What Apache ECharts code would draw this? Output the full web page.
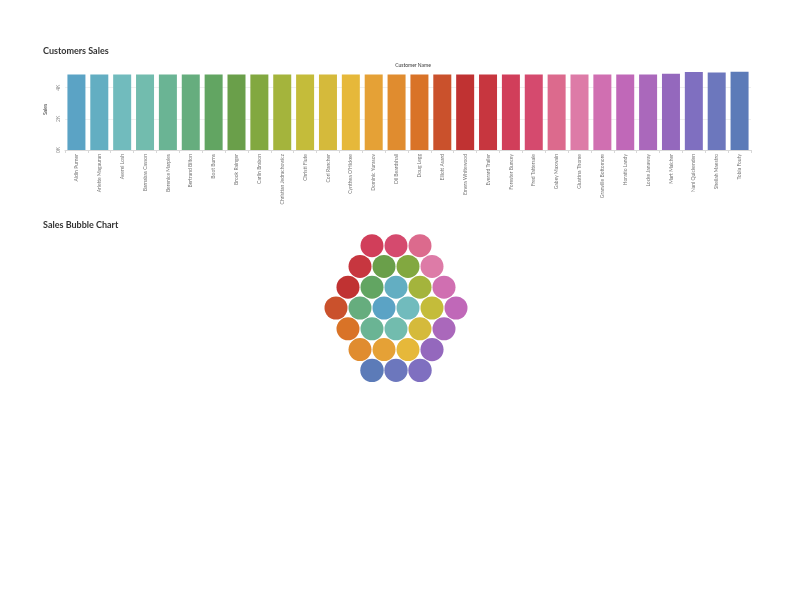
<!DOCTYPE html>
<html>
<head>
<meta charset="utf-8">
<script src="https://cdn.jsdelivr.net/npm/echarts@6/dist/echarts.min.js"></script>
<style>
    html, body { margin: 0; padding: 0; background: #fff; }
    #chart { width: 792px; height: 612px; }
</style>
</head>
<body>
<div id="chart"></div>
<script>
// customers, in the order of the bar chart
const customers = [
    'Aldin Purner', 'Arlette Magauran', 'Averel Losh', 'Barnabas Casson', 'Berenice Marples',
    'Bertrand Bilton', 'Boot Burns', 'Brook Rainger', 'Carlin Brabon', 'Christian Jedrachowicz',
    'Christi Flute', 'Cori Rancher', "Cynthea O'Hickee", 'Dominic Yurasov', 'Dil Beardshall',
    'Doug Legg', 'Elliott Asard', 'Emera Whitewood', 'Everard Trailer', 'Forester Buncey',
    'Fred Tattersale', 'Gabey Maxwain', 'Giustina Thome', 'Granville Bottomore', 'Horatio Landy',
    'Locke Janaway', 'Mart Malcher', 'Nani Quickenden', 'Sheilah Maestro', 'Tobia Fouty'
];

// sales per customer
const sales = [
    4840, 4840, 4840, 4840, 4840,
    4840, 4840, 4840, 4840, 4840,
    4840, 4840, 4840, 4840, 4840,
    4840, 4840, 4840, 4840, 4840,
    4840, 4840, 4840, 4840, 4840,
    4840, 4900, 5010, 4970, 5030
];

const salesTicks = [0, 2000, 4000];

// one colour per customer
const palette = [
    '#5ba3c5', '#63aec2', '#71bbbd', '#72bcae', '#6ab494',
    '#66ad7e', '#62a562', '#6a9f4a', '#82a840', '#a4b43c',
    '#c4bc3a', '#d5ba3b', '#e6b83a', '#e5a136', '#e08c2f',
    '#d97327', '#ca512c', '#c03232', '#c7363f', '#d13e5a',
    '#d54a6e', '#dc6a8d', '#dd7ba7', '#d06fb1', '#c068b8',
    '#aa68bb', '#9468bd', '#7f6fc0', '#6c77bd', '#5c7bb8'
];

const FONT = 'Lato, "Open Sans", sans-serif';

// hex spiral: first bubble in the middle, then ring after ring,
// each ring walked clockwise starting just left of 12 o'clock
function packHex(count, step) {
    const h = step * Math.sqrt(3) / 2;
    const cells = [];
    const R = 6;
    for (let q = -R; q <= R; q++) {
        for (let r = -R; r <= R; r++) {
            const ring = Math.max(Math.abs(q), Math.abs(r), Math.abs(q + r));
            if (ring > R) continue;
            const x = step * (q + r / 2), y = h * r;
            let key = Math.atan2(y, x) * 180 / Math.PI + 90 + 15;
            key = ((key % 360) + 360) % 360;
            cells.push({ x, y, ring, key });
        }
    }
    cells.sort((a, b) => a.ring - b.ring || a.key - b.key);

    const pts = cells.slice(0, count).map(c => [c.x, c.y]);
    const xs = pts.map(p => p[0]), ys = pts.map(p => p[1]);
    const mx = (Math.min(...xs) + Math.max(...xs)) / 2;
    const my = (Math.min(...ys) + Math.max(...ys)) / 2;
    return pts.map(p => [p[0] - mx, p[1] - my]);
}

const bubblePos = packHex(customers.length, 24);
const bubbleData = customers.map((name, i) => [bubblePos[i][0], bubblePos[i][1], sales[i], name]);

const chart = echarts.init(document.getElementById('chart'), null, { renderer: 'canvas' });

chart.setOption({
    backgroundColor: '#fff',
    animation: false,
    textStyle: { fontFamily: FONT },
    title: [
        {
            text: 'Customers Sales', left: 38, top: 42,
            textStyle: { fontSize: 9, fontWeight: 'bold', color: '#333', fontFamily: FONT }
        },
        {
            text: 'Customer Name', left: 408, top: 58, textAlign: 'center',
            textStyle: { fontSize: 5, fontWeight: 'normal', color: '#333', fontFamily: FONT }
        },
        {
            text: 'Sales Bubble Chart', left: 38, top: 216,
            textStyle: { fontSize: 9, fontWeight: 'bold', color: '#333', fontFamily: FONT }
        }
    ],
    grid: [
        { left: 65, right: 41, top: 69, bottom: 462 },
        { left: 296, top: 208, width: 200, height: 200 }
    ],
    xAxis: [
        {
            type: 'category', gridIndex: 0, data: customers,
            axisLine: { show: true, lineStyle: { color: '#d8d8d8', width: 1 } },
            axisTick: { show: true, length: 3, lineStyle: { color: '#d8d8d8' } },
            axisLabel: {
                rotate: 90, fontSize: 5, color: '#777', margin: 4, interval: 0, fontFamily: FONT
            }
        },
        { type: 'value', gridIndex: 1, min: -100, max: 100, show: false }
    ],
    yAxis: [
        {
            type: 'value', gridIndex: 0, min: 0, max: 5200, interval: 2000,
            name: 'Sales', nameLocation: 'middle', nameRotate: 90, nameGap: 10,
            nameTextStyle: { fontSize: 5, color: '#333', fontFamily: FONT },
            axisLine: { show: false },
            axisTick: { show: false },
            axisLabel: {
                rotate: 90, fontSize: 5, color: '#888', margin: 4, fontFamily: FONT,
                formatter: v => salesTicks.includes(v) ? (v / 1000) + 'K' : ''
            },
            splitLine: { show: true, showMaxLine: false, lineStyle: { color: '#f0f0f0', width: 1 } }
        },
        { type: 'value', gridIndex: 1, min: -100, max: 100, inverse: true, show: false }
    ],
    series: [
        {
            name: 'Sales', type: 'bar', xAxisIndex: 0, yAxisIndex: 0,
            data: sales, barWidth: 18,
            itemStyle: { color: p => palette[p.dataIndex] }
        },
        {
            name: 'Bubbles', type: 'scatter', xAxisIndex: 1, yAxisIndex: 1,
            data: bubbleData,
            symbolSize: v => 0.3306 * Math.sqrt(v[2]),
            itemStyle: { color: p => palette[p.dataIndex], opacity: 1 }
        }
    ]
});
</script>
</body>
</html>
